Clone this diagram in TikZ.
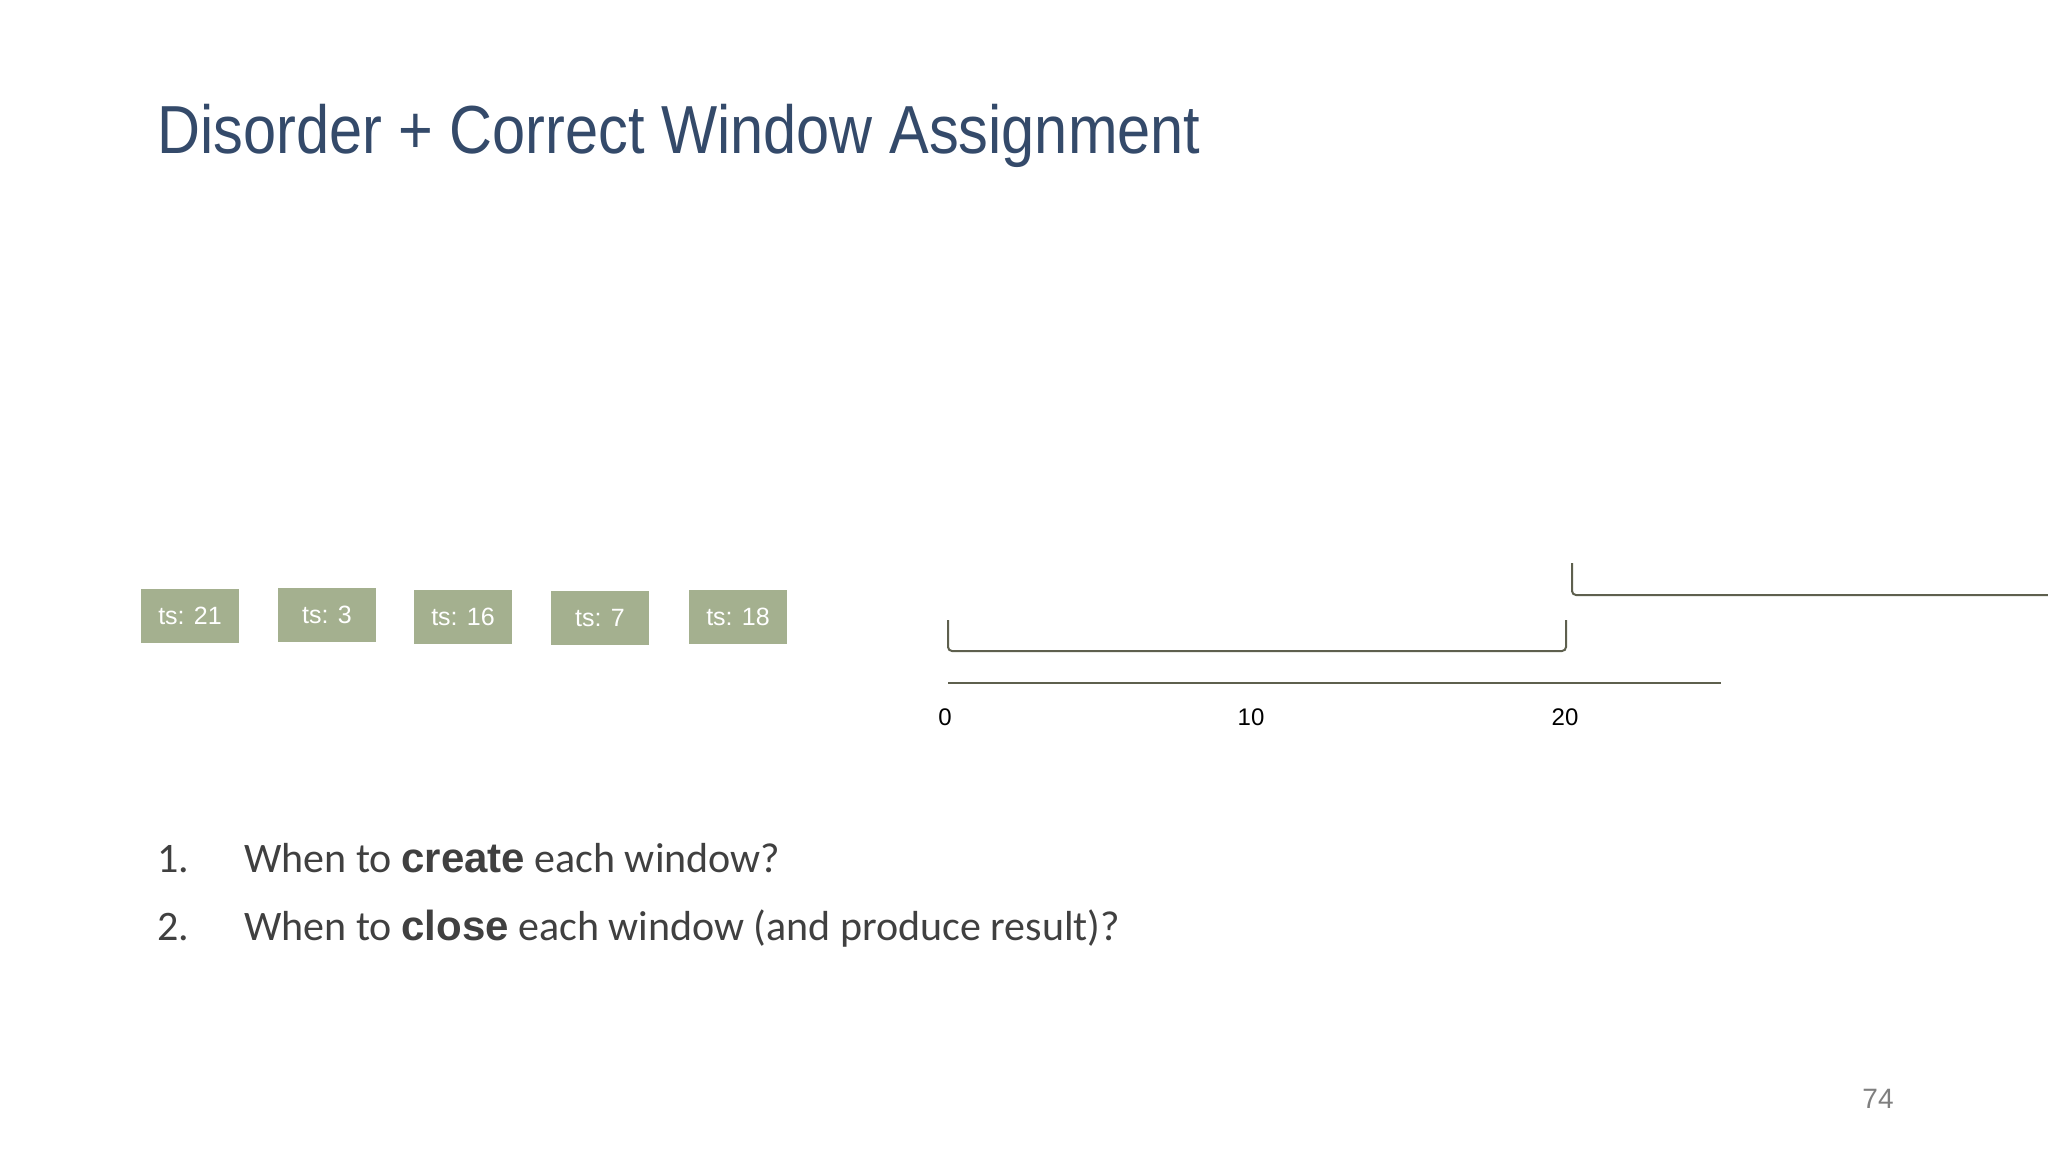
\documentclass[tikz,border=0pt]{standalone}
\usepackage{fontspec}
\setmainfont{Liberation Sans}
\newfontfamily\bodyfont{Carlito}
\definecolor{titleblue}{RGB}{52,74,106}
\definecolor{tsgreen}{RGB}{164,176,143}
\definecolor{axisgray}{RGB}{94,96,78}
\definecolor{listgray}{RGB}{64,64,64}
\definecolor{pagegray}{RGB}{127,127,127}
\tikzset{
	tsbox/.style={fill=tsgreen, minimum width=98pt, minimum height=54pt, inner sep=0pt, text=white, font=\fontsize{25}{30}\selectfont},
	ticklabel/.style={inner sep=0pt, font=\fontsize{24}{28}\selectfont},
	winline/.style={draw=axisgray, line width=2pt, rounded corners=4pt},
	listtext/.style={inner sep=0pt, anchor=base west, text=listgray, font=\bodyfont\fontsize{42}{50}\selectfont},
}
\newcommand{\kw}[1]{{\rmfamily\bfseries\fontsize{42}{50}\selectfont #1}}
\begin{document}
\begin{tikzpicture}[x=1pt, y=-1pt]
		\useasboundingbox[fill=white] (0,0) rectangle (2048,1152);
		\node[inner sep=0pt, anchor=base west, text=titleblue, font=\fontsize{68}{80}\selectfont] (title) at (157,153) {\scalebox{0.875}[1]{Disorder + Correct Window Assignment}};
		% events, out of order
		\node[tsbox] (ev21) at (190,616) {ts: 21};
		\node[tsbox] (ev3) at (327,615) {ts: 3};
		\node[tsbox] (ev16) at (463,617) {ts: 16};
		\node[tsbox] (ev7) at (600,618) {ts: 7};
		\node[tsbox] (ev18) at (738,617) {ts: 18};
		% time axis
		\pgfmathsetmacro{\xz}{948}
		\pgfmathsetmacro{\u}{30.9}
		\draw[axisgray, line width=2pt] (\xz,683) -- +(25*\u,0);
		\node[ticklabel] (l0) at (\xz-3,717) {0};
		\node[ticklabel] (l10) at (\xz+10*\u-6,717) {10};
		\node[ticklabel] (l20) at (\xz+20*\u-1,717) {20};
		% windows
		\draw[winline] (\xz,620) -- (\xz,651) -- (\xz+20*\u,651) -- (\xz+20*\u,620);
		\draw[winline] (\xz+20*\u+6,563) -- (\xz+20*\u+6,595) -- (2060,595);
		% questions
		\node[listtext] (n1) at (157,872) {1.};
		\node[listtext] (q1) at (244,872) {When to \kw{create} each window?};
		\node[listtext] (n2) at (157,940) {2.};
		\node[listtext] (q2) at (244,940) {When to \kw{close} each window (and produce result)?};
		\node[inner sep=0pt, anchor=base, text=pagegray, font=\fontsize{28}{32}\selectfont] (page) at (1878,1108) {74};
	\end{tikzpicture}
\end{document}
